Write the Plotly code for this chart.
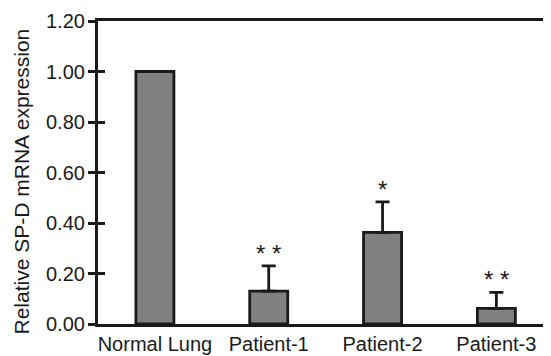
import plotly.graph_objects as go

categories = ["Normal Lung", "Patient-1", "Patient-2", "Patient-3"]
values = [1.00, 0.13, 0.363, 0.062]
errors = [0.0, 0.10, 0.121, 0.063]
stars = ["", "* *", "*", "* *"]
y_ticks = [0.0, 0.2, 0.4, 0.6, 0.8, 1.0, 1.2]
y_ticktext = ["%.2f" % v for v in y_ticks]
y_title = "Relative SP-D mRNA expression"

FONT = "Liberation Sans, Arial, sans-serif"
INK = "#1a1a1a"

fig = go.Figure()
fig.add_trace(go.Bar(
    x=categories, y=values,
    width=0.334,
    marker=dict(color="#808080", line=dict(color=INK, width=2.8)),
    error_y=dict(type="data", array=errors, arrayminus=[0]*len(errors), symmetric=False,
                 color=INK, thickness=2.8, width=7),
    showlegend=False,
))
# invisible trace on overlay axis to host inside ticks
fig.add_trace(go.Scatter(x=[categories[0]], y=[0], yaxis="y2", mode="markers",
                         marker=dict(opacity=0), showlegend=False, hoverinfo="skip"))

for c, v, e, s in zip(categories, values, errors, stars):
    if s:
        fig.add_annotation(x=c, y=v + e, text=s, showarrow=False, yanchor="bottom",
                           yshift=-3, font=dict(family=FONT, size=24, color=INK))

# y tick labels placed next to the ticks
for v, t in zip(y_ticks, y_ticktext):
    fig.add_annotation(xref="paper", yref="y", x=0, y=v, text=t, showarrow=False,
                       xanchor="right", yanchor="middle", xshift=-11,
                       font=dict(family=FONT, size=20, color=INK))

# y-axis title
fig.add_annotation(xref="paper", yref="paper", x=-0.168, y=0.47, text=y_title,
                   textangle=-90, showarrow=False, xanchor="center", yanchor="middle",
                   font=dict(family=FONT, size=21, color=INK))

fig.update_layout(
    width=543, height=348,
    margin=dict(l=90, r=0, t=13, b=32),
    paper_bgcolor="white", plot_bgcolor="white",
    font=dict(family=FONT, size=20, color=INK),
    xaxis=dict(
        type="category", range=[-0.5, 3.48],
        showline=True, linecolor=INK, linewidth=2.8, mirror=True,
        ticks="", showgrid=False, zeroline=False,
        tickfont=dict(family=FONT, size=20, color=INK),
        automargin=False,
    ),
    yaxis=dict(
        range=[0, 1.2], tickvals=y_ticks, showticklabels=False,
        showline=True, linecolor=INK, linewidth=2.8,
        ticks="outside", ticklen=7, tickwidth=2.8, tickcolor=INK,
        showgrid=False, zeroline=False,
        automargin=False,
    ),
    yaxis2=dict(
        overlaying="y", range=[0, 1.2], tickvals=y_ticks, showticklabels=False,
        ticks="inside", ticklen=7, tickwidth=2.8, tickcolor=INK,
        showgrid=False, zeroline=False, showline=False,
    ),
)

fig.write_html("out.html")
